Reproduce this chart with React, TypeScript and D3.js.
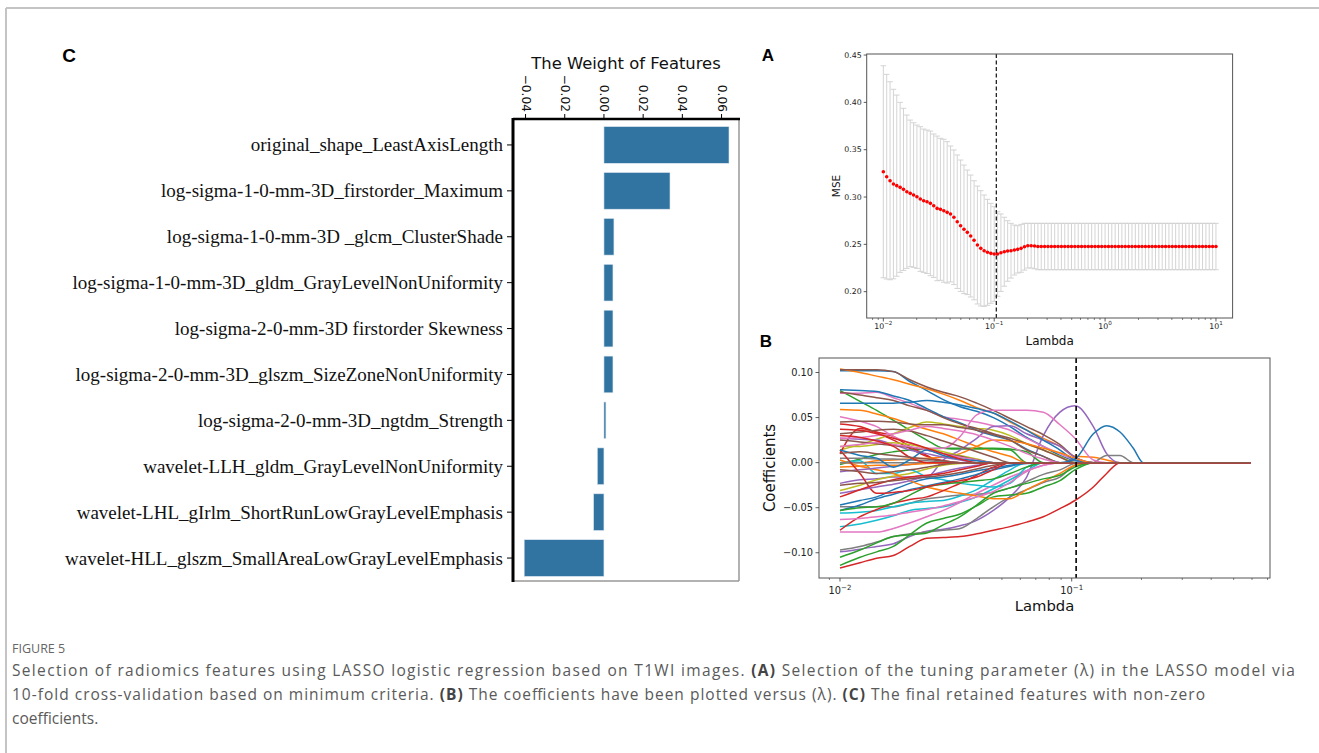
import React from "react";
import * as d3 from "d3";

// ---------------- Panel C data ----------------
const featureNames = [
  "original_shape_LeastAxisLength",
  "log-sigma-1-0-mm-3D_firstorder_Maximum",
  "log-sigma-1-0-mm-3D _glcm_ClusterShade",
  "log-sigma-1-0-mm-3D_gldm_GrayLevelNonUniformity",
  "log-sigma-2-0-mm-3D firstorder Skewness",
  "log-sigma-2-0-mm-3D_glszm_SizeZoneNonUniformity",
  "log-sigma-2-0-mm-3D_ngtdm_Strength",
  "wavelet-LLH_gldm_GrayLevelNonUniformity",
  "wavelet-LHL_gIrlm_ShortRunLowGrayLevelEmphasis",
  "wavelet-HLL_glszm_SmallAreaLowGrayLevelEmphasis",
];
const featureWeights = [0.0638, 0.0337, 0.0051, 0.0046, 0.0046, 0.0046, 0.001, -0.0034, -0.0053, -0.0407];
const weightTicks = [-0.04, -0.02, 0.0, 0.02, 0.04, 0.06];

// ---------------- Panel A data ----------------
const lambdaGrid = d3.range(100).map((i) => Math.pow(10, -2 + (3 * i) / 99));
const mseMean = [
  0.3267, 0.3215, 0.3172, 0.3137, 0.312, 0.3102, 0.3081, 0.3056, 0.3039, 0.3021,
  0.3003, 0.2979, 0.2961, 0.295, 0.2933, 0.2908, 0.288, 0.287, 0.2855, 0.2838,
  0.2821, 0.2786, 0.2739, 0.2697, 0.2659, 0.2627, 0.2588, 0.2543, 0.2493, 0.2458,
  0.2433, 0.2416, 0.2405, 0.2398, 0.2398, 0.2412, 0.2422, 0.243, 0.2433, 0.244,
  0.2447, 0.2458, 0.2475, 0.2486, 0.2486, 0.2482, 0.2477, 0.2477, 0.2477, 0.2477,
  0.2477, 0.2477, 0.2477, 0.2477, 0.2477, 0.2477, 0.2477, 0.2477, 0.2477, 0.2477,
  0.2477, 0.2477, 0.2477, 0.2477, 0.2477, 0.2477, 0.2477, 0.2477, 0.2477, 0.2477,
  0.2477, 0.2477, 0.2477, 0.2477, 0.2477, 0.2477, 0.2477, 0.2477, 0.2477, 0.2477,
  0.2477, 0.2477, 0.2477, 0.2477, 0.2477, 0.2477, 0.2477, 0.2477, 0.2477, 0.2477,
  0.2477, 0.2477, 0.2477, 0.2477, 0.2477, 0.2477, 0.2477, 0.2477, 0.2477, 0.2477,
];
const mseStd = [
  0.112, 0.1081, 0.1046, 0.1001, 0.0957, 0.0898, 0.0856, 0.081, 0.0774, 0.0764,
  0.0757, 0.0764, 0.0757, 0.0758, 0.0764, 0.0758, 0.0764, 0.075, 0.0755, 0.0747,
  0.0718, 0.0711, 0.0705, 0.0694, 0.0679, 0.0658, 0.0644, 0.0629, 0.0623, 0.0609,
  0.0588, 0.056, 0.0528, 0.05, 0.0447, 0.0409, 0.0364, 0.032, 0.0289, 0.0264,
  0.025, 0.0253, 0.0247, 0.0236, 0.0236, 0.024, 0.0245, 0.0245, 0.0245, 0.0245,
  0.0245, 0.0245, 0.0245, 0.0245, 0.0245, 0.0245, 0.0245, 0.0245, 0.0245, 0.0245,
  0.0245, 0.0245, 0.0245, 0.0245, 0.0245, 0.0245, 0.0245, 0.0245, 0.0245, 0.0245,
  0.0245, 0.0245, 0.0245, 0.0245, 0.0245, 0.0245, 0.0245, 0.0245, 0.0245, 0.0245,
  0.0245, 0.0245, 0.0245, 0.0245, 0.0245, 0.0245, 0.0245, 0.0245, 0.0245, 0.0245,
  0.0245, 0.0245, 0.0245, 0.0245, 0.0245, 0.0245, 0.0245, 0.0245, 0.0245, 0.0245,
];
const mseTicks = [0.2, 0.25, 0.3, 0.35, 0.4, 0.45];
const lambdaBest = 0.1045;

// ---------------- Panel B data (coefficients x 1e-3 at these lambdas) ----------------
const coefKnots = [0.01, 0.0122, 0.0144, 0.017, 0.02, 0.0237, 0.0279, 0.033, 0.0389, 0.0459, 0.0542,
  0.0639, 0.0754, 0.089, 0.1033, 0.124, 0.1415, 0.1616, 0.1845, 0.2038, 0.59];
const coefBlue = [
  [102, 102, 102, 101, 90, 80, 70, 62, 57, 50, 40, 28, 18, 8, 2, 0, 0, 0, 0, 0, 0],
  [81, 80, 79, 74, 69, 60, 51, 44, 36, 30, 25, 15, 7, 0, 0, 0, 0, 0, 0, 0, 0],
  [66, 66, 66, 66, 67, 69, 67, 64, 60, 55, 46, 36, 25, 14, 3, 0, 0, 0, 0, 0, 0],
  [-47, -42, -38, -30, -23, -18, -16, -13, -9, -6, -3, -1, 0, 0, 4, 32, 41, 34, 16, 0, 0],
  [-53, -47, -40, -35, -30, -26, -22, -18, -13, -8, -4, 0, 0, 0, 0, 0, 0, 0, 0, 0, 0],
  [14, 8, 5, -5, 3, 14, 8, 4, 2, 0, 0, 0, 0, 0, 0, 0, 0, 0, 0, 0, 0],
];
const coefOrange = [
  [104, 100, 96, 92, 87, 82, 76, 69, 61, 55, 45, 36, 27, 18, 7, 6, 3, 0, 0, 0, 0],
  [59, 58, 54, 49, 43, 37, 32, 25, 18, 12, 7, 0, 0, 0, 0, 0, 0, 0, 0, 0, 0],
  [0, 0, 2, 3, 4, 5, 6, 10, 18, 25, 24, 21, 16, 11, 5, 0, 0, 0, 0, 0, 0],
  [3, -4, -8, -12, -20, -27, -31, -34, -37, -40, -40, -30, -21, -12, -3, 0, 0, 0, 0, 0, 0],
  [-5, -4, -3, -3, -2, -1, 0, 0, 0, 0, 0, 0, 0, 0, 0, 0, 0, 0, 0, 0, 0],
];
const coefGreen = [
  [80, 68, 58, 47, 36, 25, 16, 15, 15, 15, 14, 0, 0, 0, 0, 0, 0, 0, 0, 0, 0],
  [-2, 4, 9, 12, 14, 15, 16, 16, 16, 16, 15, 12, 0, 0, 0, 0, 0, 0, 0, 0, 0],
  [-114, -105, -99, -93, -80, -67, -62, -57, -48, -38, -36, -34, -27, -20, -8, 0, 0, 0, 0, 0, 0],
  [-105, -97, -89, -82, -80, -78, -69, -60, -47, -34, -28, -23, -18, -14, -5, 0, 0, 0, 0, 0, 0],
  [-53, -50, -49, -45, -36, -27, -24, -22, -20, -18, -12, -5, 0, 0, 0, 0, 0, 0, 0, 0, 0],
];
const coefRed = [
  [43, 40, 33, 25, 16, 7, 2, 0, 0, 0, 0, 0, 0, 0, 0, 0, 0, 0, 0, 0, 0],
  [10, 38, 34, 29, 18, 8, 0, 0, 0, 0, 0, 0, 0, 0, 0, 0, 0, 0, 0, 0, 0],
  [-117, -111, -106, -103, -93, -84, -83, -82, -79, -75, -71, -66, -60, -51, -42, -27, -12, 0, 0, 0, 0],
  [-75, -60, -52, -45, -41, -38, -31, -23, -14, -5, 0, 0, 0, 0, 0, 0, 0, 0, 0, 0, 0],
  [14, -12, -34, -33, -31, -27, -23, -20, -16, -8, 0, 0, 0, 0, 0, 0, 0, 0, 0, 0, 0],
  [-38, -30, -24, -19, -16, -14, -12, -8, -4, 0, 0, 0, 0, 0, 0, 0, 0, 0, 0, 0, 0],
  [30, 28, 24, 18, 6, 0, 0, 0, 0, 0, 0, 0, 0, 0, 0, 0, 0, 0, 0, 0, 0],
  [37, 36, 32, 27, 22, 16, 10, 4, 0, 0, 0, 0, 0, 0, 0, 0, 0, 0, 0, 0, 0],
];
const coefPurple = [
  [-99, -96, -93, -90, -82, -76, -74, -70, -64, -53, -38, -16, 30, 56, 63, 40, 10, 0, 0, 0, 0],
  [-23, -19, -18, -16, -16, -16, 3, 14, 27, 40, 41, 32, 25, 18, 6, 0, 0, 0, 0, 0, 0],
  [27, 26, 25, 20, 14, 10, 6, 3, 0, 0, 0, 0, 0, 0, 0, 0, 0, 0, 0, 0, 0],
  [-10, -8, -6, -4, -2, 0, 0, 0, 0, 0, 0, 0, 0, 0, 0, 0, 0, 0, 0, 0, 0],
  [-34, -30, -27, -24, -20, -15, -10, -6, -3, 0, 0, 0, 0, 0, 0, 0, 0, 0, 0, 0, 0],
];
const coefBrown = [
  [103, 103, 103, 101, 92, 84, 78, 73, 66, 58, 49, 40, 31, 20, 6, 0, 0, 0, 0, 0, 0],
  [78, 75, 72, 69, 63, 58, 50, 43, 38, 32, 27, 21, 14, 6, 0, 0, 0, 0, 0, 0, 0],
  [45, 46, 46, 45, 43, 42, 42, 39, 36, 31, 25, 14, 7, 0, 0, 0, 0, 0, 0, 0, 0],
  [25, 23, 21, 19, 17, 14, 10, 7, 3, 0, 0, 0, 0, 0, 0, 0, 0, 0, 0, 0, 0],
  [32, 34, 36, 37, 35, 30, 24, 18, 12, 6, 0, 0, 0, 0, 0, 0, 0, 0, 0, 0, 0],
  [-25, -23, -22, -20, -18, -16, -14, -11, -7, -3, 0, 0, 0, 0, 0, 0, 0, 0, 0, 0, 0],
  [10, 12, 10, 8, 6, 4, 2, 0, 0, 0, 0, 0, 0, 0, 0, 0, 0, 0, 0, 0, 0],
  [-8, -10, -12, -10, -8, -5, -2, 0, 0, 0, 0, 0, 0, 0, 0, 0, 0, 0, 0, 0, 0],
];
const coefPink = [
  [77, 77, 78, 72, 66, 58, 51, 48, 45, 41, 36, 27, 18, 10, 3, 0, 0, 0, 0, 0, 0],
  [51, 46, 40, 29, 22, 16, 16, 29, 53, 58, 58, 58, 56, 42, 27, 3, 0, 0, 0, 0, 0],
  [-77, -77, -77, -73, -67, -60, -53, -44, -34, -25, -16, -9, -3, 0, 0, 0, 0, 0, 0, 0, 0],
  [-63, -62, -60, -58, -55, -52, -48, -43, -38, -32, -22, -10, -3, 0, 0, 0, 0, 0, 0, 0, 0],
  [18, 20, 22, 20, 18, 14, 10, 6, 3, 0, 0, 0, 0, 0, 0, 0, 0, 0, 0, 0, 0],
  [27, 28, 30, 32, 36, 40, 38, 35, 31, 25, 18, 10, 4, 0, 0, 0, 0, 0, 0, 0, 0],
];
const coefGray = [
  [-97, -93, -88, -82, -79, -77, -75, -73, -62, -49, -38, -30, -22, -16, -3, 0, 8, 8, 0, 0, 0],
  [-49, -49, -49, -49, -45, -40, -38, -36, -35, -33, -28, -21, -13, -8, -1, 0, 0, 0, 0, 0, 0],
  [5, 5, 4, 4, 3, 2, 1, 0, 0, 0, 0, 0, 0, 0, 0, 0, 0, 0, 0, 0, 0],
  [0, 0, 0, 0, 0, 0, 0, 0, 0, 0, 0, 0, 0, 0, 0, 0, 0, 0, 0, 0, 0],
];
const coefOlive = [
  [14, 20, 26, 32, 39, 45, 43, 40, 38, 36, 30, 21, 14, 7, 0, 0, 0, 0, 0, 0, 0],
  [-31, -25, -19, -15, -12, -7, -3, -1, 0, 0, 0, 0, 0, 0, 0, 0, 0, 0, 0, 0, 0],
  [18, 18, 20, 22, 20, 16, 12, 8, 4, 0, 0, 0, 0, 0, 0, 0, 0, 0, 0, 0, 0],
];
const coefCyan = [
  [-71, -68, -64, -59, -53, -51, -49, -44, -38, -29, -19, -9, 0, 0, 0, 0, 0, 0, 0, 0, 0],
  [-56, -55, -53, -49, -45, -43, -42, -37, -30, -19, -8, 0, 0, 0, 0, 0, 0, 0, 0, 0, 0],
  [0, 2, -12, -12, -8, -16, -19, -23, -25, -27, -23, -5, 0, 0, 0, 0, 0, 0, 0, 0, 0],
];
const coefGroups = [coefBlue, coefOrange, coefGreen, coefRed, coefPurple, coefBrown, coefPink, coefGray, coefOlive, coefCyan];
const coefTicks = [-0.1, -0.05, 0, 0.05, 0.1];

const SANS = "'DejaVu Sans', sans-serif";

function Pow10({ x, y, exp, size }: { x: number; y: number; exp: number; size: number }) {
  const e = exp < 0 ? "\u2212" + Math.abs(exp) : String(exp);
  return (
    <text x={x} y={y} textAnchor="middle" fontFamily={SANS} fontSize={size} fill="#222">
      10<tspan dy={-size * 0.45} fontSize={size * 0.72}>{e}</tspan>
    </text>
  );
}

function fmt(v: number, d: number) {
  const s = Math.abs(v).toFixed(d);
  return (v < 0 ? "\u2212" : "") + s;
}

function minorTicks(lo: number, hi: number) {
  const out: number[] = [];
  for (let e = Math.floor(Math.log10(lo)); e <= Math.ceil(Math.log10(hi)); e++) {
    for (let m = 2; m <= 9; m++) {
      const v = m * Math.pow(10, e);
      if (v >= lo && v <= hi) out.push(v);
    }
  }
  return out;
}

export default function App() {
  // ---------- Panel C ----------
  const xC = d3.scaleLinear().domain([-0.0464, 0.0689]).range([513, 739]);
  const yC = d3.scaleBand<string>().domain(featureNames).range([122, 581]).paddingInner(0.2).paddingOuter(0.1);

  // ---------- Panel A ----------
  const xA = d3.scaleLog().domain([Math.pow(10, -2.15), Math.pow(10, 1.15)]).range([866.7, 1232.6]);
  const yA = d3.scaleLinear().domain([0.1722, 0.4511]).range([318, 54]);
  const [aL, aR] = xA.range();
  const [aB, aT] = yA.range();

  // ---------- Panel B ----------
  const xB = d3.scaleLog().domain([Math.pow(10, -2.0906), Math.pow(10, -0.1442)]).range([819, 1270]);
  const yB = d3.scaleLinear().domain([-0.128, 0.1161]).range([578, 358]);
  const [bL, bR] = xB.range();
  const [bB, bT] = yB.range();
  const lineB = d3
    .line<number>()
    .x((_, i) => xB(coefKnots[i]))
    .y((v) => yB(v / 1000))
    .curve(d3.curveMonotoneX);
  const maxLen = d3.max(coefGroups, (g) => g.length) as number;
  const drawOrder: { vals: number[]; color: string }[] = [];
  for (let r = 0; r < maxLen; r++) {
    coefGroups.forEach((g, c) => {
      if (g[r]) drawOrder.push({ vals: g[r], color: d3.schemeCategory10[c] });
    });
  }

  const captionColor = "#5a5a5a";

  return (
    <svg width={1319} height={753} style={{ position: "absolute", left: 0, top: 0, background: "#fff" }}>
      <rect x={0} y={0} width={1319} height={753} fill="#fff" />
      {/* outer frame */}
      <line x1={6} y1={8} x2={1319} y2={8} stroke="#c4c4c4" strokeWidth={2} />
      <line x1={6} y1={8} x2={6} y2={753} stroke="#c4c4c4" strokeWidth={2} />

      {/* ================= Panel C ================= */}
      <text x={69} y={62} textAnchor="middle" fontFamily="'Liberation Sans', Arial, sans-serif" fontWeight="bold" fontSize={19}>C</text>
      <text x={626} y={69} textAnchor="middle" fontFamily={SANS} fontSize={16.4} fill="#111">The Weight of Features</text>
      {featureNames.map((n, i) => {
        const v = featureWeights[i];
        const x0 = xC(Math.min(0, v));
        const w = Math.abs(xC(v) - xC(0));
        return (
          <rect key={n} x={x0} y={yC(n)} width={Math.max(w, 1.2)} height={yC.bandwidth()} fill="#3274a1" stroke="#dfe8f0" strokeWidth={0.6} />
        );
      })}
      {/* spines */}
      <line x1={739} y1={119} x2={739} y2={581} stroke="#999" strokeWidth={1.5} />
      <line x1={513} y1={581} x2={739} y2={581} stroke="#999" strokeWidth={1.5} />
      <line x1={513} y1={119} x2={740} y2={119} stroke="#000" strokeWidth={2.5} />
      <line x1={513} y1={118} x2={513} y2={582} stroke="#000" strokeWidth={3} />
      {weightTicks.map((t) => (
        <g key={t}>
          <line x1={xC(t)} x2={xC(t)} y1={119} y2={114} stroke="#000" strokeWidth={1} />
          <text
            x={0}
            y={0}
            transform={`translate(${xC(t)},${112}) rotate(90)`}
            textAnchor="end"
            dominantBaseline="central"
            fontFamily={SANS}
            fontSize={12.2}
            fill="#111"
          >
            {fmt(t, 2)}
          </text>
        </g>
      ))}
      {featureNames.map((n) => {
        const cy = (yC(n) as number) + yC.bandwidth() / 2;
        return (
          <g key={"l" + n}>
            <line x1={507} x2={512} y1={cy} y2={cy} stroke="#000" strokeWidth={1} />
            <text x={503} y={cy} textAnchor="end" dominantBaseline="central" fontFamily="'Liberation Serif', 'Times New Roman', serif" fontSize={19} fill="#111">
              {n}
            </text>
          </g>
        );
      })}

      {/* ================= Panel A ================= */}
      <text x={768} y={61} textAnchor="middle" fontFamily="'Liberation Sans', Arial, sans-serif" fontWeight="bold" fontSize={17}>A</text>
      {lambdaGrid.map((l, i) => {
        const x = xA(l);
        const y1 = yA(mseMean[i] + mseStd[i]);
        const y2 = yA(mseMean[i] - mseStd[i]);
        return (
          <g key={"e" + i} stroke="#cfcfcf" strokeWidth={0.9}>
            <line x1={x} x2={x} y1={y1} y2={y2} />
            <line x1={x - 2.8} x2={x + 2.8} y1={y1} y2={y1} />
            <line x1={x - 2.8} x2={x + 2.8} y1={y2} y2={y2} />
          </g>
        );
      })}
      {lambdaGrid.map((l, i) => (
        <circle key={"d" + i} cx={xA(l)} cy={yA(mseMean[i])} r={1.8} fill="#ff0000" />
      ))}
      <line x1={xA(lambdaBest)} x2={xA(lambdaBest)} y1={aT} y2={aB} stroke="#222" strokeWidth={1.3} strokeDasharray="4,2.5" />
      <rect x={aL} y={aT} width={aR - aL} height={aB - aT} fill="none" stroke="#555" strokeWidth={1} />
      {mseTicks.map((t) => (
        <g key={"ya" + t}>
          <line x1={aL} x2={aL - 3} y1={yA(t)} y2={yA(t)} stroke="#333" strokeWidth={0.8} />
          <text x={aL - 5} y={yA(t)} textAnchor="end" dominantBaseline="central" fontFamily={SANS} fontSize={7.8} fill="#222">
            {t.toFixed(2)}
          </text>
        </g>
      ))}
      {[-2, -1, 0, 1].map((e) => (
        <g key={"xa" + e}>
          <line x1={xA(Math.pow(10, e))} x2={xA(Math.pow(10, e))} y1={aB} y2={aB + 3.5} stroke="#333" strokeWidth={0.8} />
          <Pow10 x={xA(Math.pow(10, e))} y={329} exp={e} size={7.8} />
        </g>
      ))}
      {minorTicks(xA.domain()[0], xA.domain()[1]).map((v, i) => (
        <line key={"ma" + i} x1={xA(v)} x2={xA(v)} y1={aB} y2={aB + 2} stroke="#333" strokeWidth={0.6} />
      ))}
      <text x={(aL + aR) / 2} y={345} textAnchor="middle" fontFamily={SANS} fontSize={12} fill="#111">Lambda</text>
      <text transform={`translate(836,${(aT + aB) / 2}) rotate(-90)`} textAnchor="middle" dominantBaseline="central" fontFamily={SANS} fontSize={10.5} fill="#111">MSE</text>

      {/* ================= Panel B ================= */}
      <text x={766} y={347} textAnchor="middle" fontFamily="'Liberation Sans', Arial, sans-serif" fontWeight="bold" fontSize={17}>B</text>
      <defs>
        <clipPath id="clipB">
          <rect x={bL} y={bT} width={bR - bL} height={bB - bT} />
        </clipPath>
      </defs>
      <g clipPath="url(#clipB)">
        {drawOrder.map((d, i) => (
          <path key={"c" + i} d={lineB(d.vals) as string} fill="none" stroke={d.color} strokeWidth={1.5} />
        ))}
      </g>
      <line x1={xB(lambdaBest)} x2={xB(lambdaBest)} y1={bT} y2={bB} stroke="#000" strokeWidth={1.6} strokeDasharray="5,3" />
      <rect x={bL} y={bT} width={bR - bL} height={bB - bT} fill="none" stroke="#555" strokeWidth={1} />
      {coefTicks.map((t) => (
        <g key={"yb" + t}>
          <line x1={bL} x2={bL - 3.5} y1={yB(t)} y2={yB(t)} stroke="#333" strokeWidth={0.8} />
          <text x={bL - 6} y={yB(t)} textAnchor="end" dominantBaseline="central" fontFamily={SANS} fontSize={9.8} fill="#222">
            {fmt(t, 2)}
          </text>
        </g>
      ))}
      {[-2, -1].map((e) => (
        <g key={"xb" + e}>
          <line x1={xB(Math.pow(10, e))} x2={xB(Math.pow(10, e))} y1={bB} y2={bB + 3.5} stroke="#333" strokeWidth={0.8} />
          <Pow10 x={xB(Math.pow(10, e))} y={594} exp={e} size={9.8} />
        </g>
      ))}
      {minorTicks(xB.domain()[0], xB.domain()[1]).map((v, i) => (
        <line key={"mb" + i} x1={xB(v)} x2={xB(v)} y1={bB} y2={bB + 2} stroke="#333" strokeWidth={0.6} />
      ))}
      <text x={(bL + bR) / 2} y={611} textAnchor="middle" fontFamily={SANS} fontSize={14.8} fill="#111">Lambda</text>
      <text transform={`translate(770,${(bT + bB) / 2}) rotate(-90)`} textAnchor="middle" dominantBaseline="central" fontFamily={SANS} fontSize={15} fill="#111">Coefficients</text>

      {/* ================= Caption ================= */}
      <text x={12} y={653} fontFamily="'Open Sans', 'Noto Sans', sans-serif" fontSize={12.5} fill="#666">FIGURE 5</text>
      <text x={12} y={676} fontFamily="'Open Sans', 'Noto Sans', sans-serif" fontSize={15.5} fill={captionColor} textLength={1283} lengthAdjust="spacing">
        Selection of radiomics features using LASSO logistic regression based on T1WI images. <tspan fontWeight="bold" fill="#444">(A)</tspan> Selection of the tuning parameter (λ) in the LASSO model via
      </text>
      <text x={12} y={700} fontFamily="'Open Sans', 'Noto Sans', sans-serif" fontSize={15.5} fill={captionColor} textLength={1193} lengthAdjust="spacing">
        10-fold cross-validation based on minimum criteria. <tspan fontWeight="bold" fill="#444">(B)</tspan> The coefficients have been plotted versus (λ). <tspan fontWeight="bold" fill="#444">(C)</tspan> The final retained features with non-zero
      </text>
      <text x={12} y={724} fontFamily="'Open Sans', 'Noto Sans', sans-serif" fontSize={15.5} fill={captionColor}>
        coefficients.
      </text>
    </svg>
  );
}
